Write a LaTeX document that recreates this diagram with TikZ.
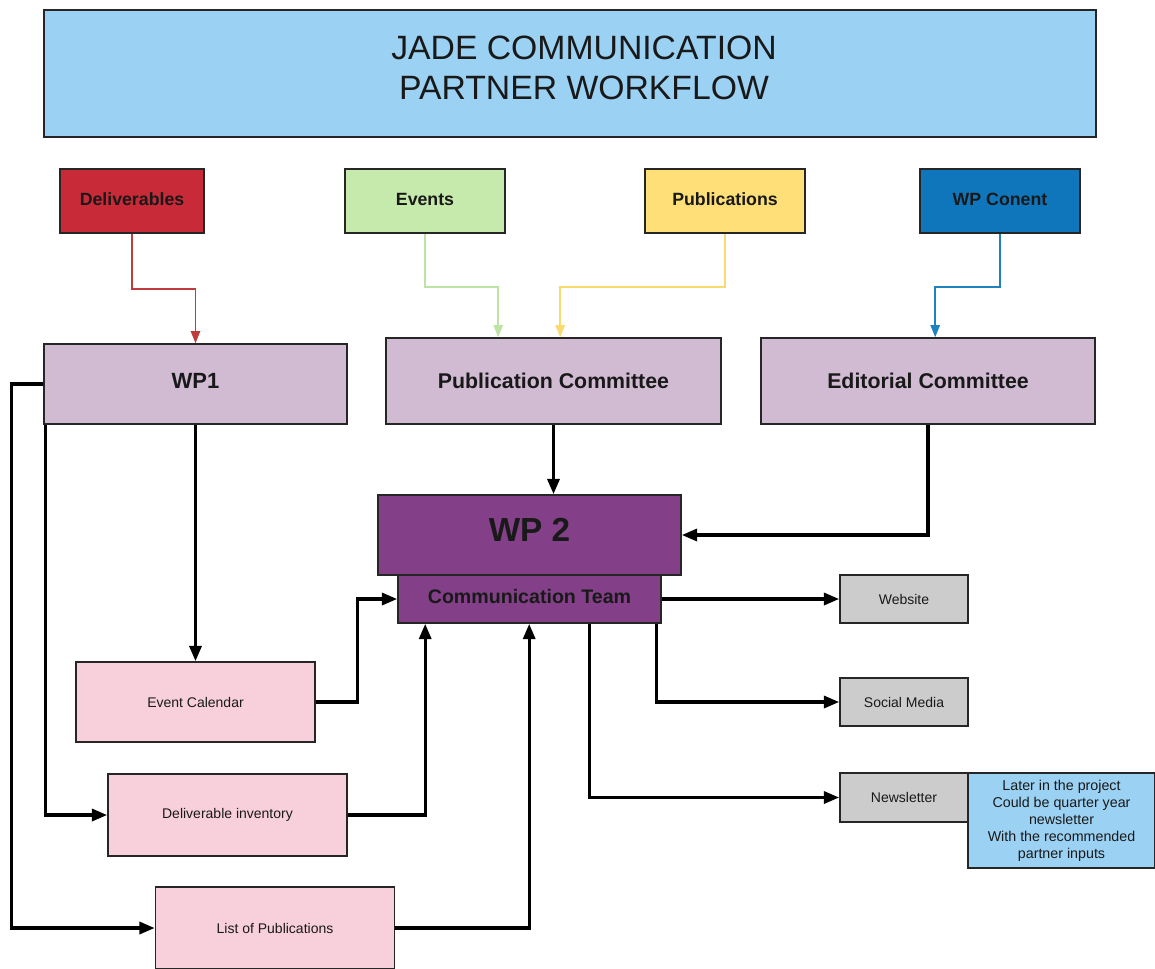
\documentclass[tikz,border=0pt]{standalone}
\usepackage{fontspec}
\setmainfont{Liberation Sans}
\usetikzlibrary{arrows.meta,calc}
\definecolor{titleblue}{RGB}{155,209,243}
\definecolor{delred}{RGB}{200,42,56}
\definecolor{evgreen}{RGB}{198,233,172}
\definecolor{pubyellow}{RGB}{255,223,119}
\definecolor{wpblue}{RGB}{15,118,187}
\definecolor{lavender}{RGB}{209,187,211}
\definecolor{wppurple}{RGB}{131,64,136}
\definecolor{pinkbox}{RGB}{248,208,220}
\definecolor{graybox}{RGB}{204,204,204}
\definecolor{redline}{RGB}{190,60,60}
\definecolor{greenline}{RGB}{190,228,165}
\definecolor{yellowline}{RGB}{250,218,110}
\definecolor{blueline}{RGB}{30,130,190}
\tikzset{
  box/.style={draw=black!85, line width=1.2pt, inner sep=0pt, align=center, text=black!90},
  topbox/.style={box, minimum width=160*0.75pt, minimum height=64*0.75pt, text depth=3pt, font=\bfseries\fontsize{13.3}{16}\selectfont},
  combox/.style={box, fill=lavender, font=\bfseries\fontsize{16}{19}\selectfont},
  pinkb/.style={box, fill=pinkbox, minimum width=239*0.75pt, font=\fontsize{10.5}{13}\selectfont},
  grayb/.style={box, fill=graybox, minimum width=128*0.75pt, font=\fontsize{10.5}{13}\selectfont},
  thickarrow/.style={line width=2.5pt, -{Triangle[length=11.5pt,width=9pt]}},
  thinarrow/.style={line width=1.1pt, -{Triangle[length=9pt,width=7pt]}},
}
\begin{document}
\begin{tikzpicture}[x=0.75pt,y=-0.75pt]
\useasboundingbox (0,0) rectangle (1155,968);
% title
\node[box, fill=titleblue, minimum width=1052*0.75pt, minimum height=127*0.75pt, text depth=8pt, font=\fontsize{25.3}{30}\selectfont] (title) at (570,73.5) {\hspace*{21pt}JADE COMMUNICATION\\\hspace*{21pt}PARTNER WORKFLOW};
% top boxes
\node[topbox, fill=delred, minimum width=144*0.75pt] (deliv) at (132,201) {Deliverables};
\node[topbox, fill=evgreen] (events) at (425,201) {Events};
\node[topbox, fill=pubyellow] (pubs) at (725,201) {Publications};
\node[topbox, fill=wpblue] (wpc) at (1000,201) {WP Conent};
% committees
\node[combox, minimum width=303*0.75pt, minimum height=80*0.75pt, text depth=4.5pt, font=\bfseries\fontsize{16.5}{19}\selectfont] (wp1) at (195.5,384) {WP1};
\node[combox, minimum width=335*0.75pt, minimum height=86*0.75pt] (pubcom) at (553.5,381) {Publication Committee};
\node[combox, minimum width=334*0.75pt, minimum height=86*0.75pt] (edcom) at (928,381) {Editorial Committee};
% WP2
\node[box, fill=wppurple, minimum width=303*0.75pt, minimum height=80*0.75pt, text depth=7.5pt, font=\bfseries\fontsize{25}{30}\selectfont] (wp2) at (529.5,535) {WP 2};
\node[box, fill=wppurple, minimum width=263*0.75pt, minimum height=48*0.75pt, text depth=4.5pt, font=\bfseries\fontsize{14.7}{17}\selectfont] (comm) at (529.5,599) {Communication Team};
% outputs
\node[grayb, minimum height=48*0.75pt] (web) at (904,599) {Website};
\node[grayb, minimum height=48*0.75pt] (social) at (904,702) {Social Media};
\node[grayb, minimum height=49*0.75pt] (news) at (904,797.5) {Newsletter};
\node[box, fill=titleblue, minimum width=187*0.75pt, minimum height=95*0.75pt, font=\fontsize{10.7}{12.75}\selectfont] (note) at (1061.5,820.5) {Later in the project\\Could be quarter year\\newsletter\\With the recommended\\partner inputs};
% pink boxes
\node[pinkb, minimum height=80*0.75pt] (evcal) at (195.5,702) {Event Calendar};
\node[pinkb, minimum height=82*0.75pt] (delinv) at (227.5,815) {Deliverable inventory};
\node[pinkb, minimum height=82*0.75pt] (lop) at (275,928) {List of Publications};
% thin coloured connectors
\draw[thinarrow, redline] (deliv.south) -- ++(0,55) -| (wp1.north);
\draw[thinarrow, greenline] (events.south) -- ++(0,53) -| ($(pubcom.north west)+(113,0)$);
\draw[thinarrow, yellowline] (pubs.south) -- ++(0,53) -| ($(pubcom.north west)+(175,0)$);
\draw[thinarrow, blueline] (wpc.south) -- ++(0,53) -| ($(edcom.north west)+(175,0)$);
% thick connectors
\draw[thickarrow] (pubcom.south) -- (pubcom.south |- wp2.north);
\draw[thickarrow] (edcom.south) |- (wp2.east);
\draw[thickarrow] (wp1.south) -- (evcal.north);
\draw[thickarrow] (wp1.west) -- ++(-32,0) |- (lop.west);
\draw[thickarrow] ($(wp1.south west)+(2,0)$) |- (delinv.west);
\draw[thickarrow] (evcal.east) -- ++(42,0) |- (comm.west);
\draw[thickarrow] (delinv.east) -| ($(comm.south west)+(28,0)$);
\draw[thickarrow] (lop.east) -| ($(comm.south west)+(132,0)$);
\draw[thickarrow] (comm.east) -- (web.west);
\draw[thickarrow] ($(comm.south west)+(259,0)$) |- (social.west);
\draw[thickarrow] ($(comm.south west)+(192,0)$) |- (news.west);
\end{tikzpicture}
\end{document}
